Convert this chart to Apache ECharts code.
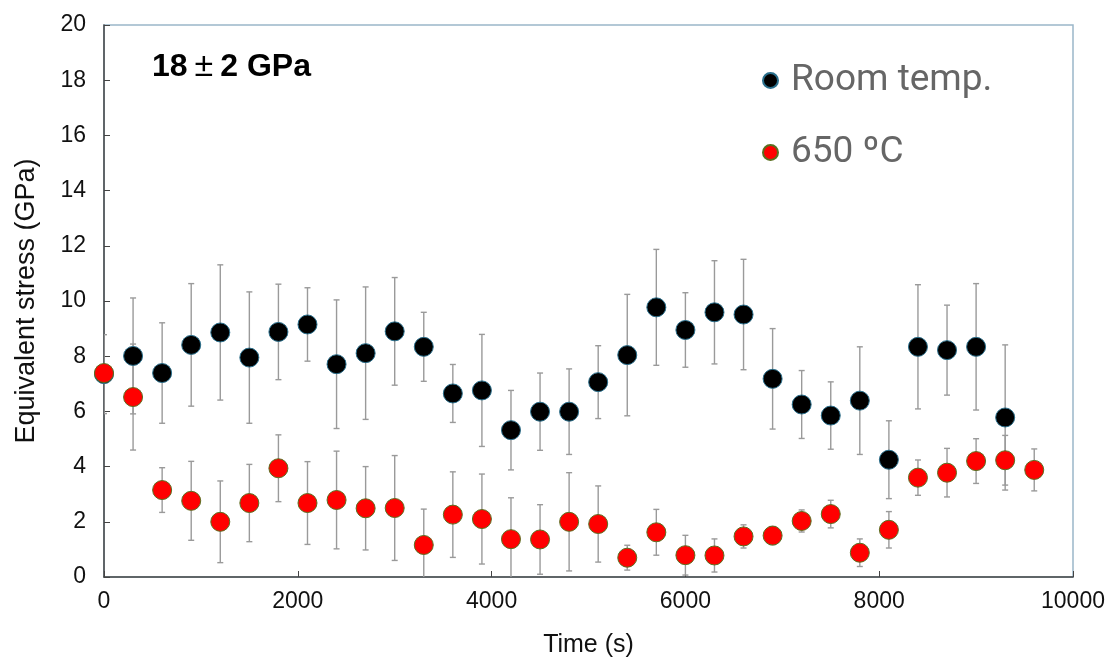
<!DOCTYPE html>
<html>
<head>
<meta charset="utf-8">
<script src="https://cdn.jsdelivr.net/npm/echarts@6/dist/echarts.min.js"></script>
<style>
html,body{margin:0;padding:0;background:#fff;}
#chart{width:1109px;height:663px;}
</style>
</head>
<body>
<div id="chart"></div>
<script>
// ---- data ----
const timeRT = [0,300,600,900,1200,1500,1800,2100,2400,2700,3000,3300,3600,3900,4200,4500,4800,5100,5400,5700,6000,6300,6600,6900,7200,7500,7800,8100,8400,8700,9000,9300];
const stressRT = [7.35,8.01,7.39,8.41,8.86,7.95,8.88,9.15,7.71,8.11,8.90,8.34,6.65,6.76,5.32,5.99,5.99,7.06,8.04,9.77,8.95,9.59,9.51,7.18,6.25,5.85,6.39,4.25,8.34,8.22,8.34,5.78];
const errRT = [1.43,2.10,1.82,2.22,2.45,2.38,1.73,1.33,2.33,2.40,1.95,1.25,1.05,2.03,1.44,1.40,1.55,1.32,2.20,2.10,1.35,1.87,2.00,1.82,1.23,1.22,1.95,1.41,2.25,1.63,2.29,2.63];

const time650 = [0,300,600,900,1200,1500,1800,2100,2400,2700,3000,3300,3600,3900,4200,4500,4800,5100,5400,5700,6000,6300,6600,6900,7200,7500,7800,8100,8400,8700,9000,9300,9600];
const stress650 = [7.39,6.52,3.15,2.76,2.00,2.68,3.94,2.68,2.79,2.49,2.50,1.16,2.26,2.10,1.37,1.36,2.00,1.92,0.70,1.62,0.79,0.78,1.47,1.50,2.03,2.28,0.88,1.71,3.60,3.78,4.20,4.23,3.88];
const err650 = [0.25,1.92,0.81,1.43,1.48,1.40,1.21,1.50,1.77,1.51,1.90,1.30,1.55,1.63,1.50,1.26,1.78,1.38,0.45,0.83,0.72,0.60,0.42,0.33,0.40,0.50,0.50,0.66,0.64,0.88,0.81,0.90,0.76];

const xTicks = [0,2000,4000,6000,8000,10000];
const yTicks = [0,2,4,6,8,10,12,14,16,18,20];
const nameRT = 'Room temp.';
const name650 = '650 ºC';

// ---- build ----
const ptsRT = timeRT.map((t,i)=>[t, stressRT[i], errRT[i]]);
const pts650 = time650.map((t,i)=>[t, stress650[i], err650[i]]);

function errRender(params, api){
  const x = api.value(0), y = api.value(1), e = api.value(2);
  const hi = y + e, lo = y - e;
  const pTop = api.coord([x, hi]);
  const pBot = api.coord([x, Math.max(lo, 0)]);
  const cap = 3;
  const st = {stroke:'#9a9a9a', lineWidth:1.4};
  const children = [
    {type:'line', shape:{x1:pTop[0], y1:pTop[1], x2:pBot[0], y2:pBot[1]}, style:st},
    {type:'line', shape:{x1:pTop[0]-cap, y1:pTop[1], x2:pTop[0]+cap, y2:pTop[1]}, style:st}
  ];
  if (lo >= 0) children.push({type:'line', shape:{x1:pBot[0]-cap, y1:pBot[1], x2:pBot[0]+cap, y2:pBot[1]}, style:st});
  return {type:'group', children};
}

const chart = echarts.init(document.getElementById('chart'), null, {renderer:'canvas'});
const axisFont = {fontFamily:'Liberation Sans, Arial, sans-serif', fontSize:23, color:'#111'};
chart.setOption({
  animation:false,
  backgroundColor:'#fff',
  title:{
    text:'{a|18}{b|±}{a|2 GPa}',
    left:147, top:45,
    textStyle:{
      rich:{
        a:{fontFamily:'Liberation Sans, Arial, sans-serif', fontWeight:'bold', fontSize:32, color:'#000'},
        b:{fontFamily:'Liberation Sans, Arial, sans-serif', fontWeight:'normal', fontSize:34, color:'#000', padding:[0,7,0,7]}
      }
    }
  },
  legend:{
    data:[nameRT, name650],
    orient:'vertical',
    left:757, top:57,
    itemWidth:15, itemHeight:15,
    itemGap:35,
    icon:'circle',
    textStyle:{fontFamily:'Roboto, sans-serif', fontSize:37, color:'#666', padding:[0,0,0,8]}
  },
  grid:{left:104, right:36, top:25, bottom:83, show:true, borderColor:'#9bb7c9', borderWidth:1.5, containLabel:false},
  xAxis:{
    type:'value', min:xTicks[0], max:xTicks[xTicks.length-1], interval:2000,
    name:'Time (s)', nameLocation:'middle', nameGap:56,
    nameTextStyle:{fontFamily:'Liberation Sans, Arial, sans-serif', fontSize:25, color:'#111'},
    axisLine:{show:true, lineStyle:{color:'#444', width:1.5}},
    axisTick:{show:true, inside:true, length:6, lineStyle:{color:'#444'}},
    axisLabel:Object.assign({margin:13, formatter:(v)=>String(v)}, axisFont),
    splitLine:{show:false}
  },
  yAxis:{
    type:'value', min:yTicks[0], max:yTicks[yTicks.length-1], interval:2,
    name:'Equivalent stress (GPa)', nameLocation:'middle', nameGap:64,
    nameTextStyle:{fontFamily:'Liberation Sans, Arial, sans-serif', fontSize:27, color:'#111'},
    axisLine:{show:true, lineStyle:{color:'#444', width:1.5}},
    axisTick:{show:true, inside:true, length:6, lineStyle:{color:'#444'}},
    axisLabel:Object.assign({margin:18}, axisFont),
    splitLine:{show:false}
  },
  series:[
    {type:'custom', name:'errRT', data:ptsRT, renderItem:errRender, encode:{x:0,y:1}, clip:true, silent:true, z:1},
    {type:'custom', name:'err650', data:pts650, renderItem:errRender, encode:{x:0,y:1}, clip:true, silent:true, z:1},
    {type:'scatter', name:nameRT, data:ptsRT, symbol:'circle', symbolSize:19, z:3,
     itemStyle:{color:'#000', borderColor:'#2a6f8c', borderWidth:1, opacity:1}},
    {type:'scatter', name:name650, data:pts650, symbol:'circle', symbolSize:19, z:4,
     itemStyle:{color:'#ff0000', borderColor:'#5a6f20', borderWidth:1, opacity:1}}
  ]
});
</script>
</body>
</html>
